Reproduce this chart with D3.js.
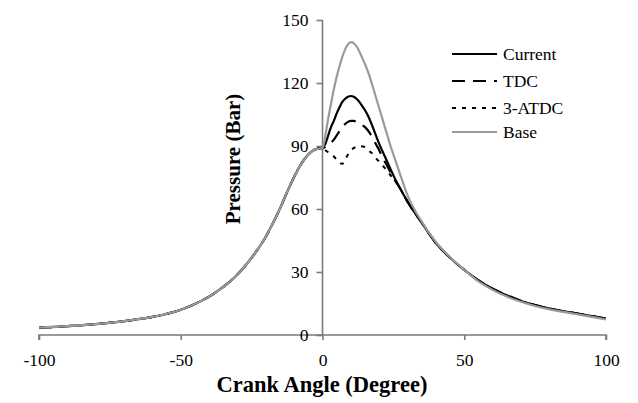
<!DOCTYPE html>
<html>
<head>
<meta charset="utf-8">
<script src="https://cdn.jsdelivr.net/npm/d3@7"></script>
<style>
  html, body { margin: 0; padding: 0; background: #fff; }
  svg text { font-family: "Liberation Serif", "Times New Roman", "DejaVu Serif", serif; }
</style>
</head>
<body>
<svg id="chart" width="638" height="403"></svg>
<script>
// ---- Data ----
const angles = [-100,-90,-80,-70,-60,-50,-45,-40,-35,-30,-25,-20,-17.5,-15,-12.5,-10,-7.5,-5,-2.5,
  0,1,2,3,4,5,6,7,8,9,10,11,12,13,14,15,16,17,18,19,20,21,22,23,24,25,27.5,30,35,40,45,50,55,60,65,70,75,80,85,90,95,100];

const leftShared = [3.5,4.2,5.2,6.6,8.6,12,14.8,18.3,22.9,28.8,36.8,46.8,53.2,60.2,68,75.3,81.5,86,88.4];

const currentRight = [89,91,95,99,102,105.5,108.5,111,112.5,113.5,113.8,113.5,112.5,111,109,107,104.5,101.5,98,94.5,91,88,85,82,79,76,69.5,63.5,53.5,43.8,36.8,31,26,22,18.8,16.2,14.2,12.6,11.3,10.2,9,7.8];
const tdcRight     = [89,89.5,90.5,91.5,93,95,97,99,100.5,101.5,102,102,101.5,100.8,100,99,97.5,95.5,93,90.5,88,85,82.5,80,77.5,75,69.5,63.5,53.5,43.8,36.8,31,26,22,19,16.3,14.2,12.6,11.3,10.2,9,7.8];
const atdcRight    = [89,88,87,86,85,83.5,82,81.5,83.5,86,88,89,89.7,90,89.8,89.5,88.5,87,86,84,82.5,81,79.5,78,76,74.5,69.5,63.5,53.5,43.8,36.8,31,26,22,18.8,16.2,14.2,12.6,11.3,10.2,9,7.8];
const baseRight    = [89,95,103,110,117,123,128,132.5,136,138.5,139.5,139,137.5,135,132,129,125.5,121.5,117,112.5,108,103.5,99,94.5,90,86,76,66.5,54,44.3,37,31,25.5,21.5,18.3,15.8,13.8,12.2,11,9.8,8.6,7.4];

const seriesNames = ["Current", "TDC", "3-ATDC", "Base"];
const seriesValues = [
  leftShared.concat(currentRight),
  leftShared.concat(tdcRight),
  leftShared.concat(atdcRight),
  leftShared.concat(baseRight)
];
const xTicks = [-100, -50, 0, 50, 100];
const yTicks = [0, 30, 60, 90, 120, 150];
const xTitle = "Crank Angle (Degree)";
const yTitle = "Pressure (Bar)";

// ---- Styles ----
const FONT = "'Liberation Serif', 'Times New Roman', 'DejaVu Serif', serif";
const styles = [
  { color: "#000", width: 2.2, dash: null },
  { color: "#000", width: 2.2, dash: "13,8" },
  { color: "#000", width: 2, dash: "4,6" },
  { color: "#9a9a9a", width: 2.2, dash: null }
];

const svg = d3.select("#chart").attr("font-family", FONT);
const x = d3.scaleLinear().domain([-100, 100]).range([39, 606]);
const y = d3.scaleLinear().domain([0, 150]).range([335, 20]);
const axisColor = "#7a7a7a";
const fmt = d => String(d);

// X axis (at y=0)
const xAxis = svg.append("g").attr("transform", `translate(0,${y(0)})`)
  .call(d3.axisBottom(x).tickValues(xTicks).tickSize(5).tickPadding(14).tickFormat(fmt));
// Y axis (at x=0)
const yAxis = svg.append("g").attr("transform", `translate(${x(0)},0)`)
  .call(d3.axisLeft(y).tickValues(yTicks).tickSize(6).tickPadding(8).tickFormat(fmt));

[xAxis, yAxis].forEach(g => {
  g.attr("font-family", FONT).attr("font-size", 17.5);
  g.select(".domain").attr("stroke", axisColor).attr("stroke-width", 1.6);
  g.selectAll(".tick line").attr("stroke", axisColor).attr("stroke-width", 1.6);
  g.selectAll(".tick text").attr("fill", "#000").attr("font-family", FONT).attr("font-size", 17.5);
});
xAxis.select(".domain").attr("d", `M${x(-100)},5V0H${x(100)}V5`);
yAxis.select(".domain").attr("d", `M0,${y(150)}V${y(0)}`);

// Lines: black series first, Base (grey) on top
const line = d3.line().x((d, i) => x(angles[i])).y(d => y(d)).curve(d3.curveMonotoneX);
[0, 1, 2, 3].forEach(k => {
  svg.append("path").datum(seriesValues[k])
    .attr("d", line)
    .attr("fill", "none")
    .attr("stroke", styles[k].color)
    .attr("stroke-width", styles[k].width)
    .attr("stroke-dasharray", styles[k].dash)
    .attr("stroke-linejoin", "round");
});

// Axis titles
svg.append("text").attr("x", 322).attr("y", 392).attr("text-anchor", "middle")
  .attr("font-family", FONT).attr("font-size", 22.5).attr("font-weight", "bold").text(xTitle);
svg.append("text").attr("transform", `translate(240,159) rotate(-90)`).attr("text-anchor", "middle")
  .attr("font-family", FONT).attr("font-size", 21).attr("font-weight", "bold").text(yTitle);

// Legend
const legY = [54, 81, 108, 132];
seriesNames.forEach((name, k) => {
  const g = svg.append("g").attr("transform", `translate(452,${legY[k]})`);
  g.append("line").attr("x1", 0).attr("x2", 45).attr("y1", 0).attr("y2", 0)
    .attr("stroke", styles[k].color).attr("stroke-width", styles[k].width)
    .attr("stroke-dasharray", styles[k].dash);
  g.append("text").attr("x", 51).attr("y", 5.5).attr("font-family", FONT).attr("font-size", 17.5).text(name);
});
</script>
</body>
</html>
